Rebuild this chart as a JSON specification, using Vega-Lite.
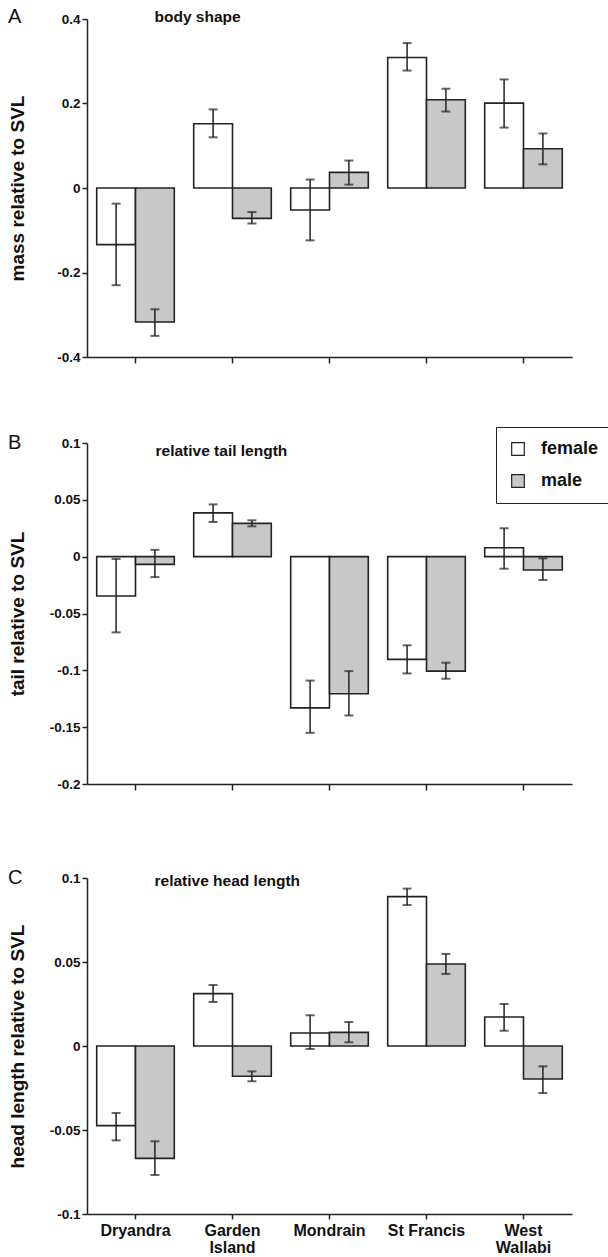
{
  "$schema": "https://vega.github.io/schema/vega-lite/v6.json",
  "padding": {"left": 8, "top": 7, "right": 0, "bottom": 5},
  "config": {
    "font": "Liberation Sans",
    "view": {"stroke": null},
    "axis": {"grid": false, "domainColor": "#222", "domainWidth": 1.5, "tickColor": "#222", "tickWidth": 1.5, "tickSize": 5, "labelColor": "#111", "titleColor": "#111", "labelFont": "Liberation Sans", "titleFont": "Liberation Sans"},
    "title": {"font": "Liberation Sans", "color": "#111"}
  },
  "datasets": {
    "bars": [
      {"panel": "A", "site": "Dryandra", "sex": "female", "mean": -0.134, "lo": -0.230, "hi": -0.037},
      {"panel": "A", "site": "Dryandra", "sex": "male", "mean": -0.317, "lo": -0.350, "hi": -0.287},
      {"panel": "A", "site": "Garden Island", "sex": "female", "mean": 0.152, "lo": 0.120, "hi": 0.186},
      {"panel": "A", "site": "Garden Island", "sex": "male", "mean": -0.072, "lo": -0.084, "hi": -0.057},
      {"panel": "A", "site": "Mondrain", "sex": "female", "mean": -0.052, "lo": -0.124, "hi": 0.020},
      {"panel": "A", "site": "Mondrain", "sex": "male", "mean": 0.037, "lo": 0.008, "hi": 0.065},
      {"panel": "A", "site": "St Francis", "sex": "female", "mean": 0.309, "lo": 0.278, "hi": 0.343},
      {"panel": "A", "site": "St Francis", "sex": "male", "mean": 0.209, "lo": 0.181, "hi": 0.235},
      {"panel": "A", "site": "West Wallabi", "sex": "female", "mean": 0.201, "lo": 0.143, "hi": 0.257},
      {"panel": "A", "site": "West Wallabi", "sex": "male", "mean": 0.093, "lo": 0.056, "hi": 0.129},
      {"panel": "B", "site": "Dryandra", "sex": "female", "mean": -0.0346, "lo": -0.0666, "hi": -0.002},
      {"panel": "B", "site": "Dryandra", "sex": "male", "mean": -0.0068, "lo": -0.018, "hi": 0.006},
      {"panel": "B", "site": "Garden Island", "sex": "female", "mean": 0.0385, "lo": 0.0305, "hi": 0.046},
      {"panel": "B", "site": "Garden Island", "sex": "male", "mean": 0.0293, "lo": 0.0267, "hi": 0.032},
      {"panel": "B", "site": "Mondrain", "sex": "female", "mean": -0.133, "lo": -0.155, "hi": -0.109},
      {"panel": "B", "site": "Mondrain", "sex": "male", "mean": -0.1206, "lo": -0.1397, "hi": -0.1007},
      {"panel": "B", "site": "St Francis", "sex": "female", "mean": -0.0904, "lo": -0.1027, "hi": -0.078},
      {"panel": "B", "site": "St Francis", "sex": "male", "mean": -0.1007, "lo": -0.1074, "hi": -0.0933},
      {"panel": "B", "site": "West Wallabi", "sex": "female", "mean": 0.0079, "lo": -0.0106, "hi": 0.025},
      {"panel": "B", "site": "West Wallabi", "sex": "male", "mean": -0.0117, "lo": -0.0205, "hi": -0.0015},
      {"panel": "C", "site": "Dryandra", "sex": "female", "mean": -0.0474, "lo": -0.0562, "hi": -0.0399},
      {"panel": "C", "site": "Dryandra", "sex": "male", "mean": -0.0669, "lo": -0.0768, "hi": -0.0567},
      {"panel": "C", "site": "Garden Island", "sex": "female", "mean": 0.0312, "lo": 0.0262, "hi": 0.0363},
      {"panel": "C", "site": "Garden Island", "sex": "male", "mean": -0.018, "lo": -0.021, "hi": -0.0151},
      {"panel": "C", "site": "Mondrain", "sex": "female", "mean": 0.0077, "lo": -0.0018, "hi": 0.0183},
      {"panel": "C", "site": "Mondrain", "sex": "male", "mean": 0.0081, "lo": 0.0022, "hi": 0.0143},
      {"panel": "C", "site": "St Francis", "sex": "female", "mean": 0.0889, "lo": 0.0839, "hi": 0.0937},
      {"panel": "C", "site": "St Francis", "sex": "male", "mean": 0.0488, "lo": 0.0429, "hi": 0.0548},
      {"panel": "C", "site": "West Wallabi", "sex": "female", "mean": 0.0173, "lo": 0.0091, "hi": 0.025},
      {"panel": "C", "site": "West Wallabi", "sex": "male", "mean": -0.0196, "lo": -0.028, "hi": -0.0121}
    ],
    "labels": [
      {"panel": "A", "label": "body shape"},
      {"panel": "B", "label": "relative tail length"},
      {"panel": "C", "label": "relative head length"}
    ]
  },
  "spacing": 69,
  "vconcat": [
    {
      "width": 485, "height": 338,
      "title": {"text": "A", "anchor": "start", "frame": "bounds", "fontSize": 20, "fontWeight": "normal", "offset": -17},
      "data": {"name": "bars"},
      "transform": [{"filter": "datum.panel == 'A'"}],
      "encoding": {
        "x": {"field": "site", "type": "nominal", "sort": ["Dryandra", "Garden Island", "Mondrain", "St Francis", "West Wallabi"], "scale": {"paddingInner": 0.2, "paddingOuter": 0.1}, "axis": {"labels": false, "title": null, "tickSize": 6}}
      },
      "layer": [
        {"mark": {"type": "bar", "stroke": "#222", "strokeWidth": 1.6},
         "encoding": {
           "y": {"field": "mean", "type": "quantitative", "scale": {"domain": [-0.4, 0.4], "nice": false, "zero": false},
                 "axis": {"values": [-0.4, -0.2, 0, 0.2, 0.4], "labelExpr": "toString(datum.value)", "labelFontSize": 13.5, "labelFontWeight": "bold", "title": "mass relative to SVL", "titleFontSize": 19, "titleFontWeight": "bold", "titleX": -60}},
           "xOffset": {"field": "sex", "sort": ["female", "male"]},
           "fill": {"field": "sex", "scale": {"domain": ["female", "male"], "range": ["#ffffff", "#c8c8c8"]}}
         }},
        {"mark": {"type": "rule", "color": "#222", "strokeWidth": 1.6}, "encoding": {"y": {"datum": 0}}},
        {"mark": {"type": "rule", "color": "#222", "strokeWidth": 1.5},
         "encoding": {"xOffset": {"field": "sex", "sort": ["female", "male"]}, "y": {"field": "lo", "type": "quantitative"}, "y2": {"field": "hi"}}},
        {"mark": {"type": "tick", "color": "#222", "size": 9, "thickness": 2},
         "encoding": {"xOffset": {"field": "sex", "sort": ["female", "male"]}, "y": {"field": "lo", "type": "quantitative"}}},
        {"mark": {"type": "tick", "color": "#222", "size": 9, "thickness": 2},
         "encoding": {"xOffset": {"field": "sex", "sort": ["female", "male"]}, "y": {"field": "hi", "type": "quantitative"}}},
        {"data": {"name": "labels"}, "transform": [{"filter": "datum.panel == 'A'"}],
         "mark": {"type": "text", "align": "left", "baseline": "middle", "fontSize": 15.5, "fontWeight": "bold", "color": "#111", "dx": 19, "dy": -2},
         "encoding": {"x": {"datum": "Dryandra"}, "y": {"datum": 0.4}, "text": {"field": "label"}}}
      ]
    },
    {
      "width": 485, "height": 341,
      "title": {"text": "B", "anchor": "start", "frame": "bounds", "fontSize": 20, "fontWeight": "normal", "offset": -17},
      "data": {"name": "bars"},
      "transform": [{"filter": "datum.panel == 'B'"}],
      "encoding": {
        "x": {"field": "site", "type": "nominal", "sort": ["Dryandra", "Garden Island", "Mondrain", "St Francis", "West Wallabi"], "scale": {"paddingInner": 0.2, "paddingOuter": 0.1}, "axis": {"labels": false, "title": null, "tickSize": 6, "minExtent": 15}}
      },
      "layer": [
        {"mark": {"type": "bar", "stroke": "#222", "strokeWidth": 1.6},
         "encoding": {
           "y": {"field": "mean", "type": "quantitative", "scale": {"domain": [-0.2, 0.1], "nice": false, "zero": false},
                 "axis": {"values": [-0.2, -0.15, -0.1, -0.05, 0, 0.05, 0.1], "labelExpr": "toString(datum.value)", "labelFontSize": 13.5, "labelFontWeight": "bold", "title": "tail relative to SVL", "titleFontSize": 19, "titleFontWeight": "bold", "titleX": -60}},
           "xOffset": {"field": "sex", "sort": ["female", "male"]},
           "fill": {"field": "sex", "scale": {"domain": ["female", "male"], "range": ["#ffffff", "#c8c8c8"]},
                    "legend": {"orient": "none", "legendX": 409, "legendY": 408, "title": null, "strokeColor": "#222", "padding": 13, "symbolType": "square", "symbolSize": 160, "symbolStrokeColor": "#222", "symbolStrokeWidth": 1.2, "labelFontSize": 18, "labelFontWeight": "bold", "labelFont": "Liberation Sans", "labelColor": "#111", "labelOffset": 14, "rowPadding": 14}}
         }},
        {"mark": {"type": "rule", "color": "#222", "strokeWidth": 1.6}, "encoding": {"y": {"datum": 0}}},
        {"mark": {"type": "rule", "color": "#222", "strokeWidth": 1.5},
         "encoding": {"xOffset": {"field": "sex", "sort": ["female", "male"]}, "y": {"field": "lo", "type": "quantitative"}, "y2": {"field": "hi"}}},
        {"mark": {"type": "tick", "color": "#222", "size": 9, "thickness": 2},
         "encoding": {"xOffset": {"field": "sex", "sort": ["female", "male"]}, "y": {"field": "lo", "type": "quantitative"}}},
        {"mark": {"type": "tick", "color": "#222", "size": 9, "thickness": 2},
         "encoding": {"xOffset": {"field": "sex", "sort": ["female", "male"]}, "y": {"field": "hi", "type": "quantitative"}}},
        {"data": {"name": "labels"}, "transform": [{"filter": "datum.panel == 'B'"}],
         "mark": {"type": "text", "align": "left", "baseline": "middle", "fontSize": 15.5, "fontWeight": "bold", "color": "#111", "dx": 20, "dy": 8},
         "encoding": {"x": {"datum": "Dryandra"}, "y": {"datum": 0.1}, "text": {"field": "label"}}}
      ]
    },
    {
      "width": 485, "height": 336,
      "title": {"text": "C", "anchor": "start", "frame": "bounds", "fontSize": 20, "fontWeight": "normal", "offset": -17},
      "data": {"name": "bars"},
      "transform": [{"filter": "datum.panel == 'C'"}],
      "encoding": {
        "x": {"field": "site", "type": "nominal", "sort": ["Dryandra", "Garden Island", "Mondrain", "St Francis", "West Wallabi"], "scale": {"paddingInner": 0.2, "paddingOuter": 0.1},
              "axis": {"title": null, "labelAngle": 0, "labelFontSize": 16, "labelFontWeight": "bold", "labelPadding": 3, "labelLineHeight": 17,
                       "labelExpr": "datum.label == 'Garden Island' ? ['Garden', 'Island'] : datum.label == 'West Wallabi' ? ['West', 'Wallabi'] : datum.label"}}
      },
      "layer": [
        {"mark": {"type": "bar", "stroke": "#222", "strokeWidth": 1.6},
         "encoding": {
           "y": {"field": "mean", "type": "quantitative", "scale": {"domain": [-0.1, 0.1], "nice": false, "zero": false},
                 "axis": {"values": [-0.1, -0.05, 0, 0.05, 0.1], "labelExpr": "toString(datum.value)", "labelFontSize": 13.5, "labelFontWeight": "bold", "title": "head length relative to SVL", "titleFontSize": 19, "titleFontWeight": "bold", "titleX": -60}},
           "xOffset": {"field": "sex", "sort": ["female", "male"]},
           "fill": {"field": "sex", "scale": {"domain": ["female", "male"], "range": ["#ffffff", "#c8c8c8"]}}
         }},
        {"mark": {"type": "rule", "color": "#222", "strokeWidth": 1.6}, "encoding": {"y": {"datum": 0}}},
        {"mark": {"type": "rule", "color": "#222", "strokeWidth": 1.5},
         "encoding": {"xOffset": {"field": "sex", "sort": ["female", "male"]}, "y": {"field": "lo", "type": "quantitative"}, "y2": {"field": "hi"}}},
        {"mark": {"type": "tick", "color": "#222", "size": 9, "thickness": 2},
         "encoding": {"xOffset": {"field": "sex", "sort": ["female", "male"]}, "y": {"field": "lo", "type": "quantitative"}}},
        {"mark": {"type": "tick", "color": "#222", "size": 9, "thickness": 2},
         "encoding": {"xOffset": {"field": "sex", "sort": ["female", "male"]}, "y": {"field": "hi", "type": "quantitative"}}},
        {"data": {"name": "labels"}, "transform": [{"filter": "datum.panel == 'C'"}],
         "mark": {"type": "text", "align": "left", "baseline": "middle", "fontSize": 15.5, "fontWeight": "bold", "color": "#111", "dx": 19, "dy": 3},
         "encoding": {"x": {"datum": "Dryandra"}, "y": {"datum": 0.1}, "text": {"field": "label"}}}
      ]
    }
  ]
}
